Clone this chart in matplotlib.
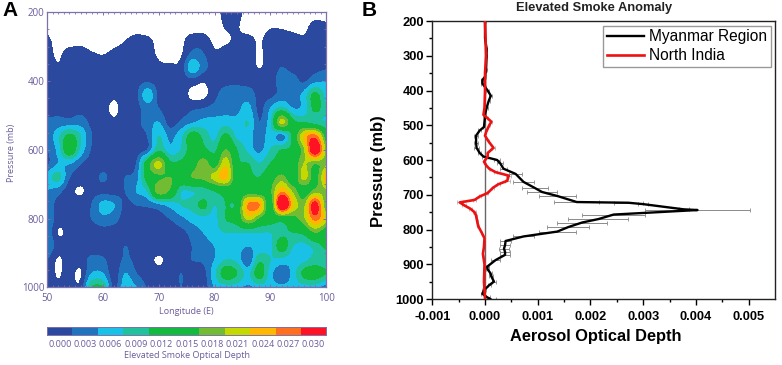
import numpy as np
import matplotlib
matplotlib.use('Agg')
import matplotlib.pyplot as plt
from matplotlib.colors import ListedColormap, BoundaryNorm

W, H = 782, 365
longitudes = np.arange(50, 101, 2)
pressures = np.arange(200, 1001, 40)
# Elevated smoke optical depth x 1000; negative = no data (white)
r200 = [-2]*16 + [1.5, 1.5] + [-2]*8
r240 = [-1,-2,-2,-2,-2,-2,-2,-2,-2,-2,-2,-2,-2,-2,-2,-2,.3,.3,-2,-2,-.5,-.5,-1,-1,1,.5]
r280 = [.5,-1,-1.5,-1,-1.5,-1.5,-1,-.2,1,.5,-1,-2,-1,1.5,1.5,-1,-.5,.5,1,-.5,1.5,1.5,1,.5,1.5,1.5]
r320 = [1,-.5,1,1,.2,-.2,.5,1,1.5,1,-.5,-1,-.5,3.5,3,.5,1,1.5,1.5,-.5,1.5,2,1.5,1.5,2,2]
r360 = [1.5,.3,1.5,1.5,1.5,1.5,1.5,1.5,2,1.5,.5,.3,1,8,4,1.5,1.5,1.5,1.5,-.2,1.5,3,2,1.5,2,2.5]
r400 = [1.5,1.5,1.5,1.5,1.5,1.5,1.5,1.5,2,2.5,1.5,.3,1,1.5,.2,1.5,2,2,2,2,2,4,4,2.5,5,6]
r440 = [1.5,1.5,1.5,1.5,1.5,1.5,.5,1.5,2,8,2,.2,1.5,-1,-1,2,4.5,5,4.5,2,2,4,4,7,13,7]
r480 = [1.5,2,2,2,1.5,1,-.8,1.5,2,4,3,.5,1.5,2.5,3,4,5,5,7,2,6,10,6,7,13,9]
r520 = [3.5,4,4,4.5,2,1.5,.5,1.5,2,4.5,6,1.5,3.5,5.5,7,7,7.5,7,9,3,8,22,13,12,10,9]
r560 = [3,8,13,9,3,1.5,1,1.5,1.5,3,9,5,8,14,11,8,13,8,8,3,8,4,13,24,28,14]
r600 = [2.5,7,15,8,2.5,1.5,1,1,1.5,3,11,7,9,14,13,11,18,12,8,5,9,12,13,20,34,18]
r640 = [2,6,6,3,1.5,1.5,1.5,1.5,3,15,22,13,13,15,20,15,23,13,12,9,12,14,14,21,18,20]
r680 = [7,10,3,1.5,1,3.5,1.5,3,4.5,14,17,18,16,18,19,22,25,14,13,12,15,19,14,22,16,26]
r720 = [6,4,1,-.5,1.5,2,1.5,3,6,9,20,17,9,9,10,12,14,14,15,14,17,26,20,15,19,20]
r760 = [6,1.5,1.5,1.5,3,7,6,2,3,3.5,5,7,9,10,13,9,12,13,27,27,14,36,24,20,32,16]
r800 = [6,1.5,1.5,1.5,3,5,4,1.5,1.5,1.5,2,3,5,7,8,8,12,14,22,17,14,14,16,20,28,22]
r840 = [6,-.3,1,1,1,1.5,1.5,1.5,1,1,1.5,1.5,2,4,6,8,9,9,9,9,9,11,12,13,18,14]
r880 = [6,1.5,1.5,1,1,1,1,3,1.5,1,1.5,1,1.5,3,4,6,7,7,6,7,8,14,9,8,10,13]
r920 = [3,-.5,1.5,1,4,3.5,1,3.5,2,1,-.5,1,1.5,3,3.5,6,9,8,3,11,9,8,7,8,10,9]
r960 = [1.5,-.3,1,-.5,6,6,1,6,3,1.5,1,1,3,1,1.5,8,14,12,8,14,7,3,7,13,14,12]
r1000 = [1,.5,1,1,12,12,2,8,6,2.5,1,1,3,1,1,6,7,7,5,7,7,7,7,7,7,3]
field_rows = [r200,r240,r280,r320,r360,r400,r440,r480,r520,r560,r600,r640,r680,
              r720,r760,r800,r840,r880,r920,r960,r1000]

band_colors = ['#2b4a9f','#1f74bd','#19c1e6','#1fc29a','#12bb3c','#12bb3c','#72bc34',
               '#c5d900','#ffb700','#ff6f1e','#ff1224']
band_labels = ['0.000','0.003','0.006','0.009','0.012','0.015','0.018','0.021','0.024','0.027','0.030']
band_edges = [0,3,6,9,12,15,18,21,24,27,30,100]

# Panel B
myanmar_p = [200,250,280,300,340,360,370,380,390,400,415,430,450,470,490,505,515,530,550,565,580,590,
             600,610,625,640,663,681,692,704,721,723,727,742,744,757,770,780,793,806,820,833,845,855,865,
             873,888,907,915,925,935,950,960,975,985,995,1000]
myanmar_v = [0,0,.03,.03,.02,0,-.05,-.05,0,.05,.11,.07,.03,0,-.01,-.02,-.1,-.17,-.17,-.16,-.1,-.03,
             .23,.29,.35,.58,.73,.95,1.08,1.38,1.74,2.72,3.0,3.77,4.03,2.44,2.15,1.84,1.58,1.37,.73,.39,.38,.36,.38,
             .38,.2,.04,.05,.1,.12,.17,.08,-.02,-.05,.04,.1]
myanmar_e = [.01,.01,.01,.01,.01,.01,.02,.02,.02,.03,.03,.02,.02,.01,.01,.02,.03,.04,.04,.04,.03,.03,
             .06,.06,.06,.13,.2,.25,.28,.35,.43,.28,.1,.1,1.0,.6,.57,.47,.4,.35,.2,.1,.1,.1,.1,
             .09,.08,.03,.03,.03,.04,.04,.03,.03,.03,.05,.1]
india_p = [200,250,300,350,400,450,470,480,490,500,520,530,545,565,580,590,605,615,625,635,645,660,670,
           680,695,705,715,722,730,740,750,760,775,790,810,825,850,870,880,900,950,1000]
india_v = [0,.01,.02,0,0,-.01,-.03,.05,.12,.08,.02,0,.06,.16,.05,.05,-.02,.02,.08,.2,.45,.42,.25,
           .15,.05,-.1,-.2,-.48,-.4,-.28,-.2,-.17,-.15,-.13,-.06,-.01,-.02,-.04,-.03,-.01,-.02,0]
x_ticks_b = [-0.001,0,0.001,0.002,0.003,0.004,0.005]
y_ticks = [200,400,600,800,1000]
y_ticks_b = [200,300,400,500,600,700,800,900,1000]

def axrect(x0, y0, x1, y1):
    return [x0/W, 1-y1/H, (x1-x0)/W, (y1-y0)/H]

def catmull(a, n, axis):
    a = np.moveaxis(np.asarray(a, float), axis, 0)
    m = a.shape[0]
    t = np.linspace(0, m-1, (m-1)*n+1)
    i = np.clip(t.astype(int), 0, m-2)
    u = (t-i).reshape((-1,)+(1,)*(a.ndim-1))
    p0, p1, p2, p3 = a[np.clip(i-1,0,m-1)], a[i], a[i+1], a[np.clip(i+2,0,m-1)]
    out = .5*(2*p1+(p2-p0)*u+(2*p0-5*p1+4*p2-p3)*u**2+(3*p1-p0-3*p2+p3)*u**3)
    return np.moveaxis(out, 0, axis)

purple = '#6b5b9c'
purple_sp = '#7c70ad'
sans = ['Open Sans','DejaVu Sans']
bold = ['Liberation Sans','DejaVu Sans']

fig = plt.figure(figsize=(W/100, H/100), dpi=100)

# Panel A
axA = fig.add_axes(axrect(47, 12.3, 326.3, 287.3))
cmap = ListedColormap(band_colors)
norm = BoundaryNorm(band_edges, cmap.N)
Z = np.array(field_rows)
n = 6
Zf = catmull(catmull(Z, n, 0), n, 1)
lonf = catmull(longitudes, n, 0)
pf = catmull(pressures, n, 0)
axA.contourf(lonf, pf, Zf, levels=band_edges, cmap=cmap, norm=norm)
axA.set_xlim(50, 100)
axA.set_ylim(1000, 200)
axA.set_xticks([50,60,70,80,90,100])
axA.set_yticks(y_ticks)
axA.set_xticks(np.arange(50,101,1), minor=True)
axA.set_yticks(np.arange(200,1001,50), minor=True)
axA.tick_params(which='major', length=2, width=.7, color=purple_sp, labelcolor=purple, labelsize=7, pad=4, direction='in', top=True, right=True)
axA.tick_params(which='minor', length=1.5, width=.6, color=purple_sp, direction='in', top=True, right=True)
for lab in axA.get_xticklabels()+axA.get_yticklabels():
    lab.set_family(sans)
axA.tick_params(axis='y', pad=2)
for s in axA.spines.values():
    s.set_color(purple_sp); s.set_linewidth(.9)
axA.set_xlabel('Longitude (E)', color=purple, fontsize=6.5, family=sans, labelpad=2)
axA.set_ylabel('Pressure (mb)', color=purple, fontsize=6.5, family=sans)
axA.yaxis.set_label_coords((12-47)/279.3, .49)
axA.yaxis.label.set_va('center')

# Colour bar
axC = fig.add_axes(axrect(47, 327, 326.3, 334.7))
axC.bar(np.arange(len(band_colors)), 1, width=1, color=band_colors, align='edge')
axC.set_xlim(0, len(band_colors)); axC.set_ylim(0, 1)
axC.set_yticks([])
axC.set_xticks(np.arange(len(band_labels))+.5)
axC.set_xticklabels(band_labels, family=sans, fontsize=6.5, color=purple)
axC.tick_params(length=0, pad=3.5)
for s in axC.spines.values():
    s.set_color(purple_sp); s.set_linewidth(.7)
axC.set_xlabel('Elevated Smoke Optical Depth', color=purple, fontsize=6.5, family=sans, labelpad=1.5)

# Panel B
axB = fig.add_axes(axrect(432.3, 21, 775, 299))
mv = np.array(myanmar_v)*1e-3
me = np.array(myanmar_e)*1e-3
iv = np.array(india_v)*1e-3
axB.axvline(0, color='#666666', lw=1, zorder=1)
axB.errorbar(mv, myanmar_p, xerr=me, fmt='none', ecolor='#8a8a8a', elinewidth=.7, capsize=1.6, capthick=.6, zorder=2)
axB.errorbar(iv, india_p, xerr=np.abs(iv)*.1+5e-6, fmt='none', ecolor='#a5a5a5', elinewidth=.5, capsize=1.2, capthick=.5, zorder=2)
axB.plot(mv, myanmar_p, color='black', lw=1.7, label='Myanmar Region', zorder=3)
axB.plot(iv, india_p, color='#ee1111', lw=1.9, label='North India', zorder=4)
axB.set_xlim(-0.001, 0.0055)
axB.set_ylim(1000, 200)
axB.set_xticks(x_ticks_b)
axB.set_xticklabels([f'{v:.3f}' for v in x_ticks_b])
axB.set_yticks(y_ticks_b)
axB.set_xticks(np.arange(-0.0005, 0.0055, 0.001), minor=True)
axB.set_yticks(np.arange(250, 1000, 100), minor=True)
axB.tick_params(which='major', length=4, width=1, labelsize=9.3, pad=2)
axB.tick_params(axis='x', which='major', pad=5)
axB.tick_params(which='minor', length=2.5, width=1)
for lab in axB.get_xticklabels()+axB.get_yticklabels():
    lab.set_family(bold); lab.set_fontweight('bold')
for s in axB.spines.values():
    s.set_linewidth(1); s.set_color('#222222')
axB.set_xlabel('Aerosol Optical Depth', fontsize=11.8, fontweight='bold', family=bold)
axB.xaxis.set_label_coords((596-432.3)/342.7, -(336-299)/278, transform=axB.transAxes)
axB.xaxis.label.set_va('center')
axB.set_ylabel('Pressure (mb)', fontsize=12, fontweight='bold', family=bold)
axB.yaxis.set_label_coords((378-432.3)/342.7, .46)
axB.yaxis.label.set_va('center')
fig.text(594/W, 1-7.5/H, 'Elevated Smoke Anomaly', fontsize=9.3, fontweight='bold', family=bold, ha='center', va='center', color='#222222')
leg = axB.legend(loc='upper right', bbox_to_anchor=(771/W, 1-25.5/H), bbox_transform=fig.transFigure,
                 prop={'family':bold, 'size':11.2}, fancybox=False, edgecolor='#999999', framealpha=1,
                 borderaxespad=0, handlelength=2.35, labelspacing=.25, borderpad=.25, handletextpad=.35)
leg.get_frame().set_linewidth(1)

fig.text(2/W, 1-11/H, 'A', fontsize=15, fontweight='bold', family=bold, va='center')
fig.text(362/W, 1-11/H, 'B', fontsize=15, fontweight='bold', family=bold, va='center')
fig.savefig('out.png', dpi=100)
